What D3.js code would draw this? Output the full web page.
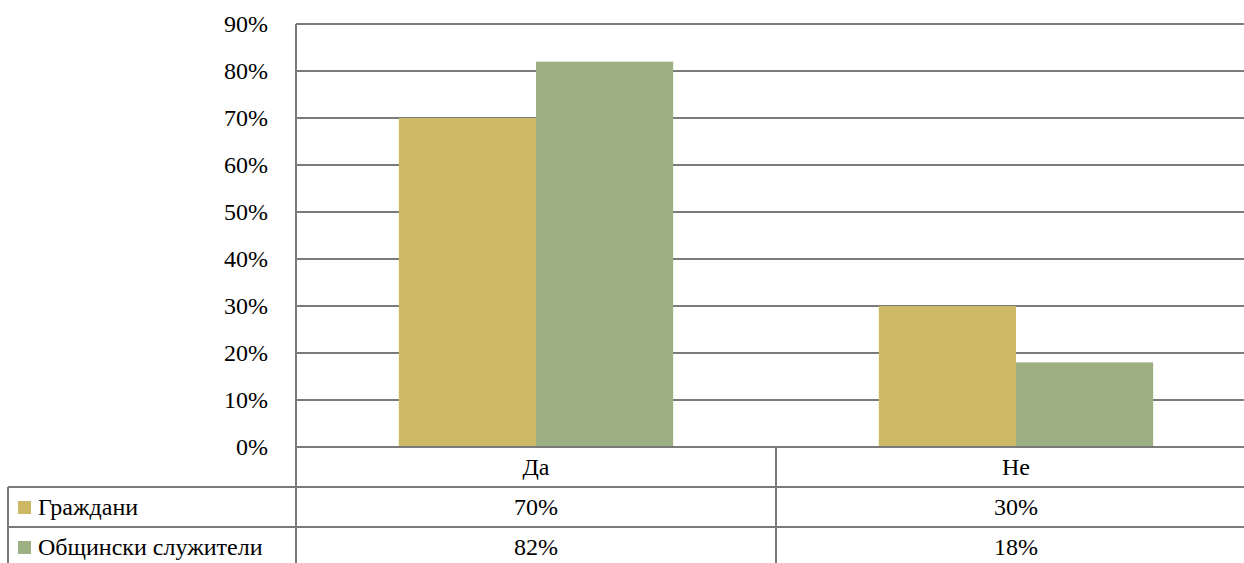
<!DOCTYPE html>
<html>
<head>
<meta charset="utf-8">
<script src="https://cdn.jsdelivr.net/npm/d3@7"></script>
<style>
  html, body { margin: 0; padding: 0; background: #fff; }
</style>
</head>
<body>
<svg id="chart" width="1244" height="563"></svg>
<script>
// Survey answers by group
const categories = ["Да", "Не"];
const seriesNames = ["Граждани", "Общински служители"];
const citizens = [70, 30];
const officials = [82, 18];
const yTicks = [0, 10, 20, 30, 40, 50, 60, 70, 80, 90];
const colors = ["#CDB866", "#9CB084"];

const seriesValues = [citizens, officials];

const svg = d3.select("#chart");
const plotLeft = 296, plotTop = 24, plotBottom = 447, plotRight = 1256;
const rowH = 40;
const tableLeft = 8;
const gridColor = "#7a7a7a";
const fontSize = 24;
const fontFamily = "'Liberation Serif', 'DejaVu Serif', 'Times New Roman', serif";

const y = d3.scaleLinear().domain([0, 90]).range([plotBottom, plotTop]);
const x = d3.scaleBand().domain(categories).range([plotLeft, plotRight]);
const xs = d3.scaleBand().domain(seriesNames).range([0, x.bandwidth()]).paddingOuter(0.75).paddingInner(0);

// Gridlines
svg.append("g").selectAll("line").data(yTicks).join("line")
  .attr("x1", plotLeft).attr("x2", plotRight)
  .attr("y1", d => y(d)).attr("y2", d => y(d))
  .attr("stroke", gridColor).attr("stroke-width", 2);

// Y axis labels
const yAxis = d3.axisLeft(y).tickValues(yTicks).tickSize(0).tickPadding(28)
  .tickFormat(d => d + "%");
const ya = svg.append("g").attr("transform", `translate(${plotLeft},0)`).call(yAxis);
ya.select(".domain").remove();
ya.attr("font-size", fontSize).attr("font-family", fontFamily);
ya.selectAll("text").style("font-family", fontFamily).attr("fill", "#000");

// Bars
const groups = svg.append("g").selectAll("g").data(categories).join("g")
  .attr("transform", d => `translate(${x(d)},0)`);
groups.selectAll("rect")
  .data((c, i) => seriesNames.map((s, j) => ({ s, j, v: seriesValues[j][i] })))
  .join("rect")
  .attr("x", d => xs(d.s))
  .attr("width", xs.bandwidth())
  .attr("y", d => y(d.v))
  .attr("height", d => plotBottom - y(d.v))
  .attr("fill", d => colors[d.j]);

// Baseline
svg.append("line").attr("x1", plotLeft).attr("x2", plotRight).attr("y1", plotBottom).attr("y2", plotBottom)
  .attr("stroke", gridColor).attr("stroke-width", 2);

// Data table
const tbl = svg.append("g").attr("font-size", fontSize).attr("font-family", fontFamily);
// vertical axis line / table column edges
tbl.append("line").attr("x1", plotLeft).attr("x2", plotLeft).attr("y1", plotTop).attr("y2", plotBottom + rowH * 3)
  .attr("stroke", gridColor).attr("stroke-width", 2);
categories.forEach((c, i) => {
  if (i > 0) {
    tbl.append("line").attr("x1", x(c)).attr("x2", x(c)).attr("y1", plotBottom).attr("y2", plotBottom + rowH * 3)
      .attr("stroke", gridColor).attr("stroke-width", 2);
  }
});
// left table edge
tbl.append("line").attr("x1", tableLeft).attr("x2", tableLeft).attr("y1", plotBottom + rowH).attr("y2", plotBottom + rowH * 3)
  .attr("stroke", gridColor).attr("stroke-width", 2);
// horizontal row lines
[1, 2].forEach(r => {
  tbl.append("line").attr("x1", tableLeft).attr("x2", plotRight)
    .attr("y1", plotBottom + rowH * r).attr("y2", plotBottom + rowH * r)
    .attr("stroke", gridColor).attr("stroke-width", 2);
});

// category header row
tbl.selectAll("text.cat").data(categories).join("text")
  .attr("class", "cat")
  .attr("x", d => x(d) + x.bandwidth() / 2)
  .attr("y", plotBottom + rowH / 2)
  .attr("dy", "0.35em")
  .attr("text-anchor", "middle")
  .style("font-family", fontFamily)
  .text(d => d);

// series rows
seriesNames.forEach((s, j) => {
  const cy = plotBottom + rowH * (j + 1) + rowH / 2;
  tbl.append("rect").attr("x", 18).attr("y", cy - 6).attr("width", 13).attr("height", 13)
    .attr("fill", colors[j]);
  tbl.append("text").attr("x", 38).attr("y", cy).attr("dy", "0.35em")
    .style("font-family", fontFamily).text(s);
  categories.forEach((c, i) => {
    tbl.append("text")
      .attr("x", x(c) + x.bandwidth() / 2)
      .attr("y", cy).attr("dy", "0.35em")
      .attr("text-anchor", "middle")
      .style("font-family", fontFamily)
      .text(seriesValues[j][i] + "%");
  });
});
</script>
</body>
</html>
